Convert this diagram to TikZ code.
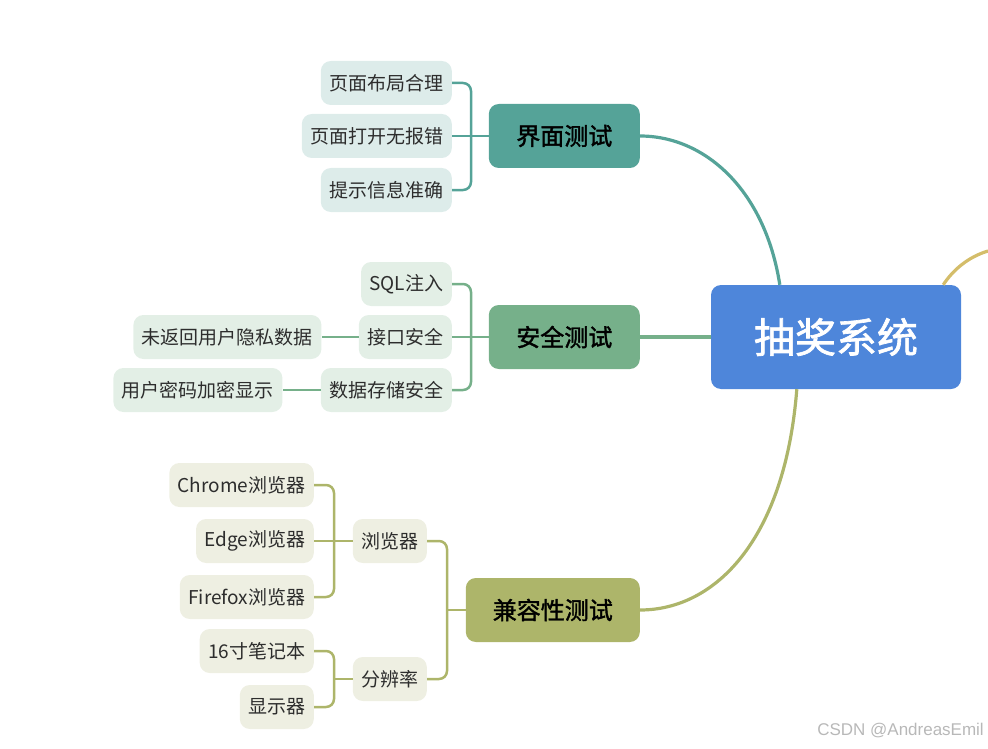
\documentclass[tikz,border=0pt]{standalone}
\usepackage{fontspec}
\newfontfamily\cjk{Noto Sans CJK SC}
\newfontfamily\cjkmid[FakeBold=1.6]{Noto Sans CJK SC}
\newfontfamily\wmfont{Liberation Sans}
\usetikzlibrary{positioning,calc}
\definecolor{sysblue}{RGB}{78,134,218}
\definecolor{uiteal}{RGB}{85,163,152}
\definecolor{uileaf}{RGB}{221,236,234}
\definecolor{secgreen}{RGB}{118,176,138}
\definecolor{secleaf}{RGB}{227,239,230}
\definecolor{compolive}{RGB}{173,181,106}
\definecolor{compleaf}{RGB}{238,239,226}
\definecolor{otheryellow}{RGB}{212,189,106}
\definecolor{leaftext}{RGB}{45,45,45}

\begin{document}
\begin{tikzpicture}[x=1pt,y=-1pt,
    rootbox/.style={rounded corners=10pt,fill=sysblue,text=white,font=\cjkmid\fontsize{41}{41}\selectfont,minimum width=250pt,minimum height=104pt,inner sep=0pt},
    mainbox/.style={rounded corners=10pt,font=\cjkmid\fontsize{24}{24}\selectfont,text=black,inner xsep=27pt,inner ysep=0pt,minimum width=151pt,minimum height=64pt,anchor=east},
    leafbox/.style={rounded corners=10pt,font=\cjk\fontsize{19}{19}\selectfont,text=leaftext,inner xsep=8.5pt,inner ysep=0pt,minimum height=44pt,anchor=east},
    mainline/.style={line width=3.2pt},
    subline/.style={line width=2.5pt}]
    \useasboundingbox (0,0) rectangle (988,749);
    \node[rootbox] (sys) at (836,337) {抽奖系统};
    \node[mainbox,fill=uiteal] (ui) at (640,136) {界面测试};
    \node[mainbox,fill=secgreen] (sec) at (640,337) {安全测试};
    \node[mainbox,fill=compolive] (comp) at (640,610) {兼容性测试};
    \node[leafbox,fill=uileaf] (ui1) at (452,83) {页面布局合理};
    \node[leafbox,fill=uileaf] (ui2) at (452,136) {页面打开无报错};
    \node[leafbox,fill=uileaf] (ui3) at (452,190) {提示信息准确};
    \node[leafbox,fill=secleaf] (sec1) at (452,284) {SQL注入};
    \node[leafbox,fill=secleaf] (sec2) at (452,337) {接口安全};
    \node[leafbox,fill=secleaf] (sec3) at (452,390) {数据存储安全};
    \node[leafbox,fill=secleaf,left=37pt of sec2] (sec2a) {未返回用户隐私数据};
    \node[leafbox,fill=secleaf,left=38pt of sec3] (sec3a) {用户密码加密显示};
    \node[leafbox,fill=compleaf] (brw) at (427,541) {浏览器};
    \node[leafbox,fill=compleaf] (res) at (427,679) {分辨率};
    \node[leafbox,fill=compleaf] (brw1) at (314,485) {Chrome浏览器};
    \node[leafbox,fill=compleaf] (brw2) at (314,541) {Edge浏览器};
    \node[leafbox,fill=compleaf] (brw3) at (314,597) {Firefox浏览器};
    \node[leafbox,fill=compleaf] (res1) at (314,651) {16寸笔记本};
    \node[leafbox,fill=compleaf] (res2) at (314,707) {显示器};
    \coordinate (uib) at (471,136);
    \coordinate (secb) at (471,337);
    \coordinate (compb) at (447,610);
    \coordinate (brwb) at (334,541);
    \coordinate (resb) at (334,679);
    \coordinate (other) at (988,251);
    \draw[mainline,uiteal] ([xshift=69pt]sys.north west) .. controls (765,190) and (705,136) .. (ui.east);
    \draw[mainline,secgreen] (sys.west) -- (sec.east);
    \draw[mainline,compolive] ([xshift=86pt]sys.south west) .. controls (785,540) and (715,610) .. (comp.east);
    \draw[mainline,otheryellow] ([xshift=-18pt]sys.north east) .. controls (953,270) and (968,257) .. (other);
    \draw[subline,uiteal,rounded corners=8pt] (ui1.east) -| (uib);
    \draw[subline,uiteal,rounded corners=8pt] (ui3.east) -| (uib);
    \draw[subline,uiteal] (ui2.east) -- (ui.west);
    \draw[subline,secgreen,rounded corners=8pt] (sec1.east) -| (secb);
    \draw[subline,secgreen,rounded corners=8pt] (sec3.east) -| (secb);
    \draw[subline,secgreen] (sec2.east) -- (sec.west);
    \draw[subline,secgreen] (sec2.west) -- (sec2a.east);
    \draw[subline,secgreen] (sec3.west) -- (sec3a.east);
    \draw[subline,compolive,rounded corners=8pt] (brw.east) -| (compb);
    \draw[subline,compolive,rounded corners=8pt] (res.east) -| (compb);
    \draw[subline,compolive] (compb) -- (comp.west);
    \draw[subline,compolive,rounded corners=8pt] (brw1.east) -| (brwb);
    \draw[subline,compolive,rounded corners=8pt] (brw3.east) -| (brwb);
    \draw[subline,compolive] (brw2.east) -- (brw.west);
    \draw[subline,compolive,rounded corners=8pt] (res1.east) -| (resb);
    \draw[subline,compolive,rounded corners=8pt] (res2.east) -| (resb);
    \draw[subline,compolive] (resb) -- (res.west);
    \node[font=\wmfont\fontsize{17}{17}\selectfont,text=black!28,anchor=east,inner sep=0pt] (mark) at (984,731) {CSDN @AndreasEmil};
  \end{tikzpicture}
\end{document}
